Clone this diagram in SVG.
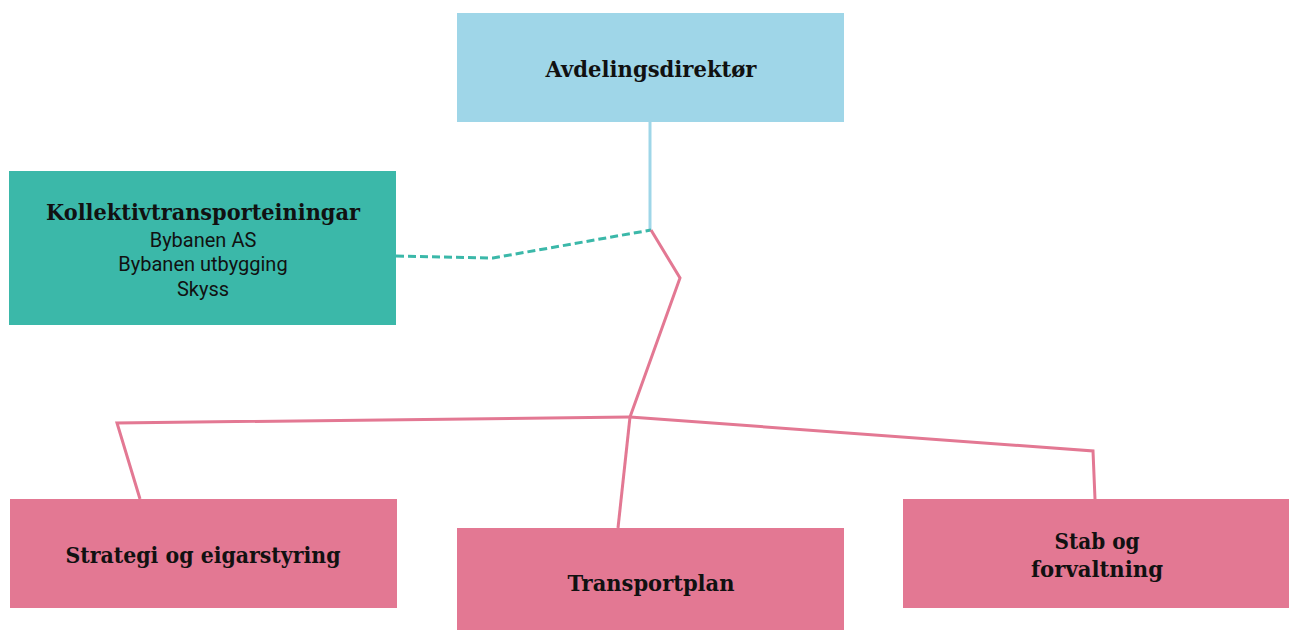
<svg xmlns="http://www.w3.org/2000/svg" width="1289" height="630" viewBox="0 0 1289 630">
<style>
.t{font-family:"DejaVu Serif","Liberation Serif",serif;font-weight:bold;font-size:23px;fill:#111;text-anchor:middle}
.s{font-family:Roboto,"Liberation Sans",sans-serif;font-size:20px;fill:#111;text-anchor:middle}
.pk{fill:#e37893}
.ln{fill:none;stroke-width:3;stroke-linejoin:miter}
</style>
<rect width="1289" height="630" fill="#fff"/>
<g id="connectors">
<path class="ln" d="M650,122 L650,230" stroke="#9fd6e8"/>
<path class="ln" d="M396,256 L493,258 L651,230" stroke="#3bb8a9" stroke-dasharray="8,4"/>
<path class="ln" d="M651,230 L680,278 L630,417" stroke="#e37893"/>
<path class="ln" d="M630,417 L117,423 L140,499" stroke="#e37893"/>
<path class="ln" d="M630,417 L618,528" stroke="#e37893"/>
<path class="ln" d="M630,417 L1093,451 L1095,499" stroke="#e37893"/>
</g>
<g id="avdelingsdirektor">
<rect x="457" y="13" width="387" height="109" fill="#9fd6e8"/>
<text class="t" x="651" y="77" textLength="211" lengthAdjust="spacingAndGlyphs">Avdelingsdirektør</text>
</g>
<g id="kollektivtransporteiningar">
<rect x="9" y="171" width="387" height="154" fill="#3bb8a9"/>
<text class="t" x="203" y="220" textLength="314" lengthAdjust="spacingAndGlyphs">Kollektivtransporteiningar</text>
<text class="s" x="203" y="247">Bybanen AS</text>
<text class="s" x="203" y="271">Bybanen utbygging</text>
<text class="s" x="203" y="296">Skyss</text>
</g>
<g id="strategi">
<rect class="pk" x="10" y="499" width="387" height="109"/>
<text class="t" x="203" y="563" textLength="275" lengthAdjust="spacingAndGlyphs">Strategi og eigarstyring</text>
</g>
<g id="transportplan">
<rect class="pk" x="457" y="528" width="387" height="102"/>
<text class="t" x="651" y="591" textLength="167" lengthAdjust="spacingAndGlyphs">Transportplan</text>
</g>
<g id="stab">
<rect class="pk" x="903" y="499" width="386" height="109"/>
<text class="t" x="1097" y="549" textLength="85" lengthAdjust="spacingAndGlyphs">Stab og</text>
<text class="t" x="1097" y="577" textLength="132" lengthAdjust="spacingAndGlyphs">forvaltning</text>
</g>
</svg>
